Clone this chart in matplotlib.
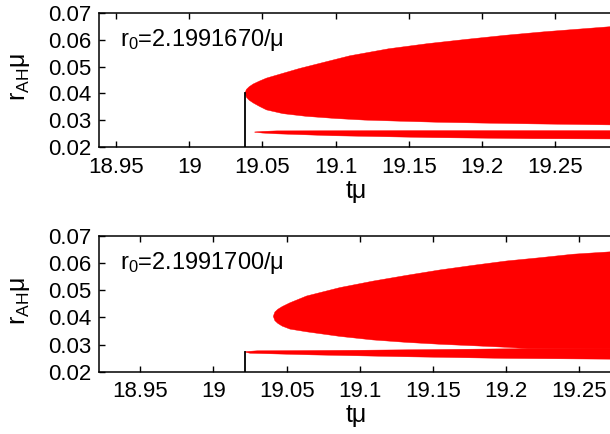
import numpy as np
import matplotlib.pyplot as plt
from matplotlib.ticker import FuncFormatter, MultipleLocator

plt.rcParams['font.family'] = ['Liberation Sans', 'DejaVu Sans']
plt.rcParams['mathtext.fontset'] = 'custom'
plt.rcParams['mathtext.rm'] = 'Liberation Sans'

# ---- top panel: r0 = 2.1991670/mu ----
top_label = r'$\mathregular{r_0}$=2.1991670/μ'
top_xlim = (18.9386, 19.2875)
top_jump_t = 19.0384
top_jump_r = 0.0401

top_big_upper_t = [19.0381, 19.0391, 19.0410, 19.0437, 19.0480, 19.0528, 19.0641,
                   19.0755, 19.0937, 19.1098, 19.1363, 19.1628, 19.1894, 19.2159,
                   19.2424, 19.2900]
top_big_upper_r = [0.0401, 0.0415, 0.0425, 0.0435, 0.0446, 0.0457, 0.0475,
                   0.0493, 0.0518, 0.0540, 0.0566, 0.0585, 0.0601, 0.0616,
                   0.0629, 0.0649]
top_big_lower_t = [19.0381, 19.0391, 19.0410, 19.0437, 19.0480, 19.0528, 19.0641,
                   19.0800, 19.1000, 19.1200, 19.1437, 19.1700, 19.2000, 19.2345,
                   19.2900]
top_big_lower_r = [0.0401, 0.0386, 0.0375, 0.0365, 0.0352, 0.0339, 0.0325,
                   0.0315, 0.0307, 0.0301, 0.0297, 0.0293, 0.0290, 0.0287,
                   0.0283]

top_strip_upper_t = [19.0448, 19.0500, 19.0600, 19.1500, 19.2900]
top_strip_upper_r = [0.0257, 0.0259, 0.0261, 0.0262, 0.0262]
top_strip_lower_t = [19.0448, 19.0500, 19.0600, 19.0980, 19.1660, 19.2345, 19.2900]
top_strip_lower_r = [0.0256, 0.0253, 0.0250, 0.0243, 0.0236, 0.0232, 0.0231]

# ---- bottom panel: r0 = 2.1991700/mu ----
bot_label = r'$\mathregular{r_0}$=2.1991700/μ'
bot_xlim = (18.9220, 19.2710)
bot_jump_t = 19.0218
bot_jump_r = 0.0274

bot_big_upper_t = [19.0409, 19.0420, 19.0440, 19.0470, 19.0523, 19.0637, 19.0865,
                   19.1093, 19.1320, 19.1549, 19.1776, 19.2004, 19.2232, 19.2460,
                   19.2750]
bot_big_upper_r = [0.0404, 0.0420, 0.0430, 0.0440, 0.0454, 0.0479, 0.0510,
                   0.0534, 0.0555, 0.0575, 0.0592, 0.0608, 0.0620, 0.0633,
                   0.0643]
bot_big_lower_t = [19.0409, 19.0420, 19.0440, 19.0470, 19.0523, 19.0637, 19.0865,
                   19.1090, 19.1320, 19.1550, 19.1800, 19.2000, 19.2150, 19.2750]
bot_big_lower_r = [0.0404, 0.0388, 0.0378, 0.0368, 0.0357, 0.0347, 0.0330,
                   0.0317, 0.0308, 0.0301, 0.0295, 0.0290, 0.0285, 0.0284]

bot_strip_upper_t = [19.0216, 19.0300, 19.1000, 19.2150, 19.2750]
bot_strip_upper_r = [0.0274, 0.0277, 0.0279, 0.0285, 0.0286]
bot_strip_lower_t = [19.0216, 19.0250, 19.0670, 19.1320, 19.2000, 19.2750]
bot_strip_lower_r = [0.0272, 0.0268, 0.0262, 0.0255, 0.0249, 0.0246]

y_ticks = [0.02, 0.03, 0.04, 0.05, 0.06, 0.07]

TICK_FS = 16
LABEL_FS = 18
NOTE_FS = 17


def region(ax, ut, ur, lt, lr):
    xs = np.concatenate([ut, lt[::-1]])
    ys = np.concatenate([ur, lr[::-1]])
    ax.fill(xs, ys, color='#ff0000', lw=0.3, ec='#ff0000')


def style(ax, xlim):
    ax.set_xlim(*xlim)
    ax.set_ylim(0.02, 0.07)
    ax.set_yticks(y_ticks)
    ax.xaxis.set_major_locator(MultipleLocator(0.05))
    ax.xaxis.set_major_formatter(FuncFormatter(lambda v, p: '%g' % round(v, 4)))
    ax.yaxis.set_major_formatter(FuncFormatter(lambda v, p: '%.2f' % v))
    ax.tick_params(direction='in', top=True, right=False, length=4, width=1,
                   labelsize=TICK_FS)
    ax.tick_params(axis='x', pad=7)
    ax.tick_params(axis='y', pad=6)
    ax.spines['right'].set_visible(False)
    for s in ['left', 'top', 'bottom']:
        ax.spines[s].set_linewidth(1.1)


fig = plt.figure(figsize=(6.1, 4.34), dpi=100)
W, H = 610.0, 434.0
ax1 = fig.add_axes([99.3 / W, 1 - 147.3 / H, 510.7 / W, 134.6 / H])
ax2 = fig.add_axes([99.3 / W, 1 - 371.7 / H, 510.7 / W, 135.7 / H])

region(ax1, np.array(top_big_upper_t), np.array(top_big_upper_r),
       np.array(top_big_lower_t), np.array(top_big_lower_r))
region(ax1, np.array(top_strip_upper_t), np.array(top_strip_upper_r),
       np.array(top_strip_lower_t), np.array(top_strip_lower_r))
ax1.plot([top_jump_t, top_jump_t], [0.02, top_jump_r], color='black', lw=1.3)
style(ax1, top_xlim)
ax1.text(0.04, 0.797, top_label, transform=ax1.transAxes, fontsize=NOTE_FS,
         ha='left', va='center')

region(ax2, np.array(bot_big_upper_t), np.array(bot_big_upper_r),
       np.array(bot_big_lower_t), np.array(bot_big_lower_r))
region(ax2, np.array(bot_strip_upper_t), np.array(bot_strip_upper_r),
       np.array(bot_strip_lower_t), np.array(bot_strip_lower_r))
ax2.plot([bot_jump_t, bot_jump_t], [0.02, bot_jump_r], color='black', lw=1.3)
style(ax2, bot_xlim)
ax2.text(0.04, 0.80, bot_label, transform=ax2.transAxes, fontsize=NOTE_FS,
         ha='left', va='center')

ylab = r'$\mathregular{r_{AH}}$μ'
fig.text(20 / W, 1 - 77 / H, ylab, rotation=90, ha='center', va='center', fontsize=LABEL_FS)
fig.text(20 / W, 1 - 301 / H, ylab, rotation=90, ha='center', va='center', fontsize=LABEL_FS)
fig.text(356 / W, 1 - 191 / H, 'tμ', ha='center', va='center', fontsize=LABEL_FS)
fig.text(356 / W, 1 - 415 / H, 'tμ', ha='center', va='center', fontsize=LABEL_FS)

fig.savefig('out.png', dpi=100)
